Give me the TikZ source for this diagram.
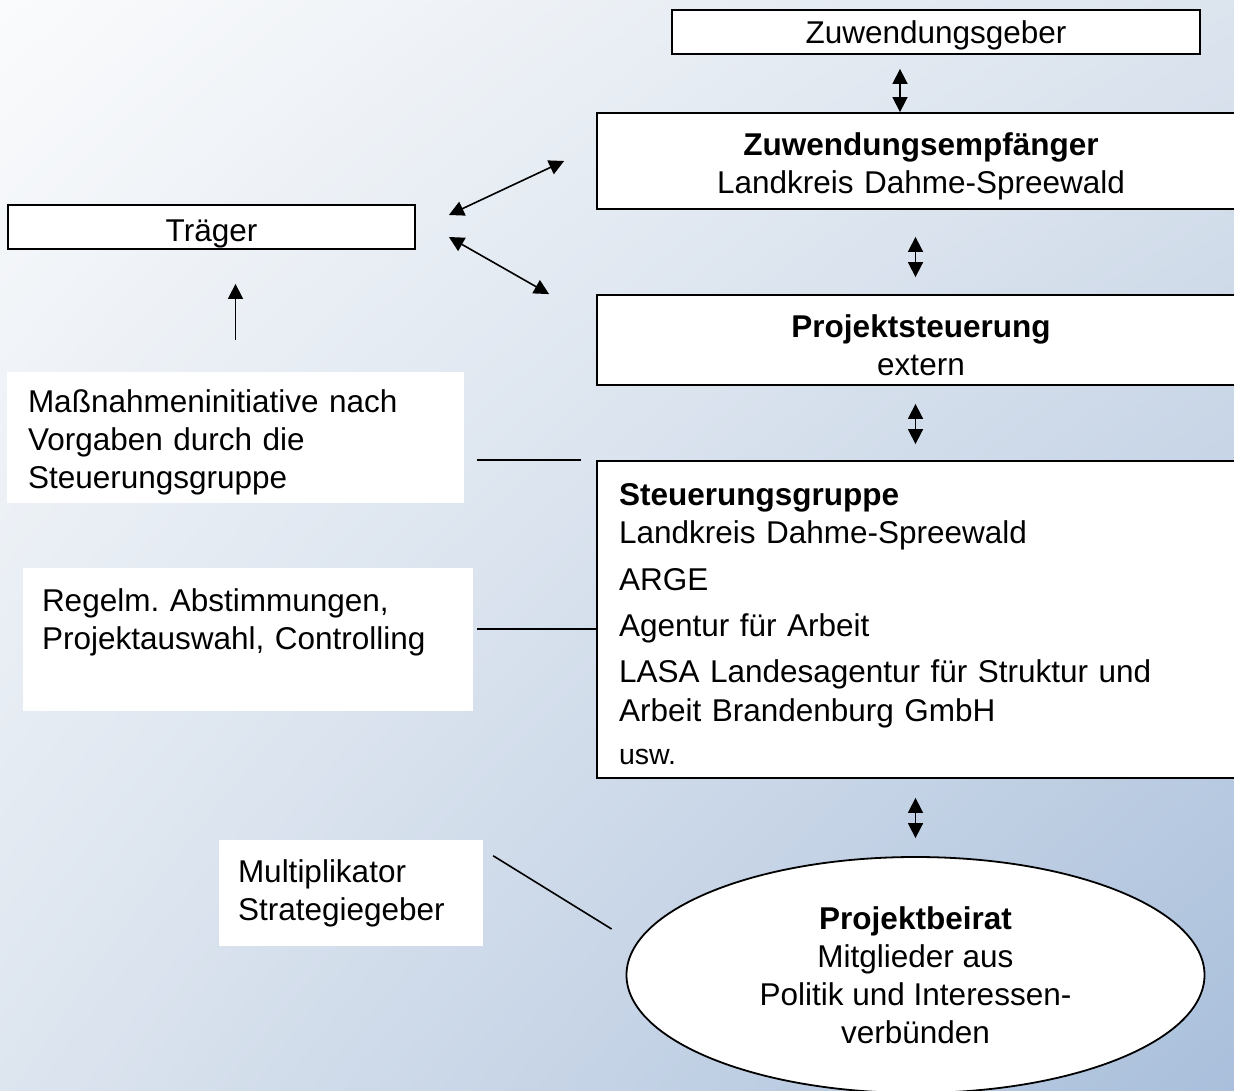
\documentclass[tikz,border=0pt]{standalone}
\usepackage{fontspec}
\setmainfont{Liberation Sans}
\usetikzlibrary{shapes.geometric,arrows.meta,shadings}
\definecolor{bgtl}{HTML}{FAFBFC}
\definecolor{bgtr}{HTML}{DCE4EE}
\definecolor{bgbl}{HTML}{DDE5EF}
\definecolor{bgbr}{HTML}{A9BFDB}
\frenchspacing

\begin{document}
\begin{tikzpicture}[x=1pt,y=-1pt,
  every node/.style={font=\fontsize{31.5}{38}\selectfont},
  textdrop/.style={execute at begin node={\rule{0pt}{#1}}},
  box/.style={draw,line width=1.8pt,fill=white,inner sep=0pt,align=center},
  wide/.style={text width=604pt,inner xsep=22pt},
  note/.style={fill=white,inner ysep=0pt,align=left},
  dbl/.style={{Triangle[length=15pt,width=15pt]}-{Triangle[length=15pt,width=15pt]},line width=1.6pt},
  plain/.style={line width=1.6pt}]
  \useasboundingbox (0,0) rectangle (1234,1091);
  \clip (0,0) rectangle (1234,1091);
  \shade[upper left=bgtl,upper right=bgtr,lower left=bgbl,lower right=bgbr] (0,0) rectangle (1234,1091);

  \node[box,textdrop=29pt,minimum width=528pt,minimum height=44pt] (geber) at (936,32) {Zuwendungsgeber};
  \node[box,wide,textdrop=33pt,minimum width=648pt,minimum height=96pt] (empf) at (921,161) {\textbf{Zuwendungsempfänger}\\Landkreis Dahme-Spreewald};
  \node[box,textdrop=35pt,minimum width=407pt,minimum height=44pt] (traeger) at (211.5,227) {Träger};
  \node[box,wide,textdrop=33pt,minimum width=648pt,minimum height=90pt] (prs) at (921,340) {\textbf{Projektsteuerung}\\extern};
  \node[box,wide,textdrop=31pt,minimum width=648pt,minimum height=317pt,align=left] (steu) at (921,619.5)
    {\textbf{Steuerungsgruppe}\\
     Landkreis Dahme-Spreewald\\[9pt]
     ARGE\\[8pt]
     Agentur für Arbeit\\[8pt]
     LASA Landesagentur für Struktur und\\[1pt]
     Arbeit Brandenburg GmbH\\[5pt]
     {\fontsize{28.5}{38}\selectfont usw.}};
  \node[note,textdrop=33pt,text width=415pt,minimum height=131pt,inner xsep=21pt] (mass) at (235.5,437.5)
    {Maßnahmeninitiative nach\\Vorgaben durch die\\Steuerungsgruppe};
  \node[note,textdrop=31pt,text width=412pt,minimum height=143pt,inner xsep=19pt] (regel) at (248,639.5)
    {Regelm. Abstimmungen,\\Projektauswahl, Controlling\\\strut};
  \node[note,text width=226pt,minimum height=106pt,inner xsep=19pt] (multi) at (351,893)
    {Multiplikator\\Strategiegeber};
  \node[ellipse,draw,line width=1.8pt,fill=white,inner sep=0pt,minimum width=578pt,minimum height=236pt,align=center] (beirat) at (915.5,975)
    {\textbf{Projektbeirat}\\Mitglieder aus\\Politik und Interessen-\\verbünden};

  \path[dbl]
    ([xshift=-36pt]geber.south) edge[shorten <=14pt] ([xshift=-21pt]empf.north)
    (empf.south -| beirat.north) edge[shorten <=27pt,shorten >=17pt] (prs.north -| beirat.north)
    (prs.south -| beirat.north) edge[shorten <=18pt,shorten >=16pt] (steu.north -| beirat.north)
    (steu.south -| beirat.north) edge[shorten <=19pt,shorten >=18pt] (beirat.north)
    ([xshift=33pt,yshift=12pt]traeger.east) edge ([xshift=-32pt]empf.west)
    ([xshift=33pt,yshift=-10pt]traeger.east) edge ([xshift=-47pt]prs.north west);
  \draw[-{Triangle[length=15pt,width=15pt]},plain,shorten <=32pt,shorten >=34pt] (mass.north) -- (mass.north |- traeger.south);
  \draw[plain,shorten <=13pt,shorten >=15pt] (mass.east |- steu.north) -- (steu.north west);
  \draw[plain,shorten <=4pt] (regel.east |- 0,629) -- (steu.west |- 0,629);
  \draw[plain] ([xshift=10pt,yshift=-16pt]multi.north east) -- ([xshift=-14pt,yshift=46pt]beirat.west);
\end{tikzpicture}
\end{document}
